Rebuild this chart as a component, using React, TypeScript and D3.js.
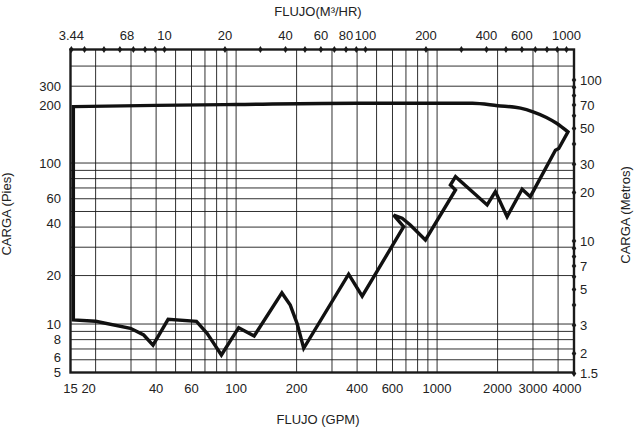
import React, { useEffect, useRef } from 'react'
import * as d3 from 'd3'

// flow: GPM on the bottom, m3/h on top
const gpmGrid = [20, 30, 40, 50, 60, 70, 80, 90, 100, 200, 300, 400, 500, 600, 700, 800, 900, 1000, 2000, 3000, 4000]
const gpmLabels = [15, 20, 40, 60, 100, 200, 400, 600, 1000, 2000, 3000, 4000]
const m3hTicks = [3.44, 4, 5, 6, 7, 8, 9, 10, 20, 30, 40, 50, 60, 70, 80, 90, 100, 200, 300, 400, 500, 600, 700, 800, 900, 1000]
const m3hLabelValues = [3.44, 6.5, 10, 20, 40, 60, 80, 100, 200, 400, 600, 1000]
const m3hLabelText = ['3.44', '68', '10', '20', '40', '60', '80', '100', '200', '400', '600', '1000']

// head: feet on the left, metres on the right
const ftGrid = [6, 7, 8, 9, 10, 20, 30, 40, 50, 60, 70, 80, 90, 100, 300, 400]
const ftLabels = [5, 6, 8, 10, 20, 40, 60, 100, 200, 300]
const mTicks = [1.5, 2, 3, 4, 5, 6, 7, 8, 9, 10, 20, 30, 40, 50, 60, 70, 80, 90, 100]
const mLabels = [1.5, 2, 3, 5, 7, 10, 20, 30, 50, 70, 100]

// coverage envelope, top edge left -> right (gpm, ft)
const topGpm = [15.5, 40, 100, 400, 1500, 2000, 2600, 3000, 3500, 3950, 4480]
const topFt = [224, 228, 231, 235, 235, 227, 219, 208, 192, 176, 156]
// rest of the outline, from the right tip back round to the top-left corner
const edgeGpm = [4480, 4030, 3880, 2910, 2650, 2230, 1950, 1775, 1235, 1165, 1235, 875, 736, 670, 608, 682, 424, 363, 217, 201, 186, 169, 123, 103, 84.5, 77.4, 71.7, 63.5, 45.9, 38.6, 34.7, 29.8, 20, 15.5, 15.5]
const edgeFt = [156, 123, 120, 61.8, 68.7, 46.4, 66.4, 54.9, 82.2, 73, 68, 33.3, 41.2, 45.4, 47.5, 40.2, 14.9, 20.4, 7.07, 10.1, 13.1, 15.6, 8.43, 9.49, 6.42, 7.59, 8.76, 10.4, 10.7, 7.4, 8.55, 9.41, 10.4, 10.6, 224]

const App: React.FC = () => {
    const svgRef = useRef<SVGSVGElement | null>(null)

    useEffect(() => {
        if (!svgRef.current) return
        const svg = d3.select(svgRef.current)
        svg.selectAll('*').remove()

        const left = 70.5
        const right = 574
        const top = 49.5
        const bottom = 372.5
        const M3H = 0.2271 // m3/h per gpm
        const FT = 3.2808 // ft per metre

        const x = d3.scaleLog().domain([15, 4800]).range([left, right])
        const y = d3.scaleLog().domain([5, 507]).range([bottom, top])

        const font = '"Liberation Sans", Arial, Helvetica, sans-serif'
        const ink = '#1a1a1a'
        const txt = '#222'

        // grid
        const grid = svg.append('g').attr('stroke', ink).attr('stroke-width', 0.9)
        grid.selectAll('line.v')
            .data(gpmGrid)
            .enter()
            .append('line')
            .attr('class', 'v')
            .attr('x1', (d) => x(d))
            .attr('x2', (d) => x(d))
            .attr('y1', top)
            .attr('y2', bottom)
        grid.selectAll('line.h')
            .data(ftGrid)
            .enter()
            .append('line')
            .attr('class', 'h')
            .attr('x1', left)
            .attr('x2', right)
            .attr('y1', (d) => y(d))
            .attr('y2', (d) => y(d))

        // frame
        svg.append('rect')
            .attr('x', left)
            .attr('y', top)
            .attr('width', right - left)
            .attr('height', bottom - top)
            .attr('fill', 'none')
            .attr('stroke', ink)
            .attr('stroke-width', 2.4)

        // diamond ticks on top and right axes
        const diamond = 'M0,-3.4L2.3,0L0,3.4L-2.3,0Z'
        svg.selectAll('path.td')
            .data(m3hTicks)
            .enter()
            .append('path')
            .attr('class', 'td')
            .attr('d', diamond)
            .attr('fill', ink)
            .attr('transform', (d) => `translate(${x(d / M3H)},${top})`)
        svg.selectAll('path.rd')
            .data(mTicks)
            .enter()
            .append('path')
            .attr('class', 'rd')
            .attr('d', diamond)
            .attr('fill', ink)
            .attr('transform', (d) => `translate(${right},${y(d * FT)})`)

        // envelope
        const topLine = d3
            .line<number>()
            .x((_, i) => x(topGpm[i]))
            .y((_, i) => y(topFt[i]))
            .curve(d3.curveMonotoneX)
        const edgeLine = d3
            .line<number>()
            .x((_, i) => x(edgeGpm[i]))
            .y((_, i) => y(edgeFt[i]))
        const d = (topLine(topGpm) || '') + (edgeLine(edgeGpm) || '').replace(/^M/, 'L') + 'Z'
        svg.append('path')
            .attr('d', d)
            .attr('fill', 'none')
            .attr('stroke', '#111')
            .attr('stroke-width', 3.4)
            .attr('stroke-linejoin', 'miter')

        const labels = svg
            .append('g')
            .attr('font-family', font)
            .attr('font-size', 13)
            .attr('fill', txt)

        // bottom labels (a couple nudged to keep them apart, as in the original)
        const nudge: Record<number, number> = { 20: -7, 4000: 9 }
        labels.selectAll('text.b')
            .data(gpmLabels)
            .enter()
            .append('text')
            .attr('class', 'b')
            .attr('x', (d) => x(d) + (nudge[d] || 0))
            .attr('y', 393)
            .attr('text-anchor', 'middle')
            .text((d) => d)

        labels.selectAll('text.t')
            .data(m3hLabelValues)
            .enter()
            .append('text')
            .attr('class', 't')
            .attr('x', (d) => x(d / M3H))
            .attr('y', 40)
            .attr('text-anchor', 'middle')
            .text((_, i) => m3hLabelText[i])

        const lift: Record<number, number> = { 200: -9, 40: -4, 6: -2.5 }
        labels.selectAll('text.l')
            .data(ftLabels)
            .enter()
            .append('text')
            .attr('class', 'l')
            .attr('x', 61)
            .attr('y', (d) => y(d) + (lift[d] || 0))
            .attr('dy', '0.36em')
            .attr('text-anchor', 'end')
            .text((d) => d)

        labels.selectAll('text.r')
            .data(mLabels)
            .enter()
            .append('text')
            .attr('class', 'r')
            .attr('x', 580)
            .attr('y', (d) => y(d * FT))
            .attr('dy', '0.36em')
            .attr('text-anchor', 'start')
            .text((d) => d)

        // axis titles
        labels.append('text')
            .attr('x', 318)
            .attr('y', 16)
            .attr('text-anchor', 'middle')
            .text('FLUJO(M³/HR)')
        labels.append('text')
            .attr('x', 318)
            .attr('y', 424)
            .attr('text-anchor', 'middle')
            .text('FLUJO (GPM)')
        labels.append('text')
            .attr('transform', 'translate(630,215) rotate(-90)')
            .attr('text-anchor', 'middle')
            .text('CARGA (Metros)')
        labels.append('text')
            .attr('transform', 'translate(11,214) rotate(-90)')
            .attr('text-anchor', 'middle')
            .text('CARGA (Pies)')
    }, [])

    return (
        <svg
            ref={svgRef}
            width={634}
            height={434}
            style={{ position: 'absolute', left: 0, top: 0, background: '#fff' }}
        ></svg>
    )
}

export default App
